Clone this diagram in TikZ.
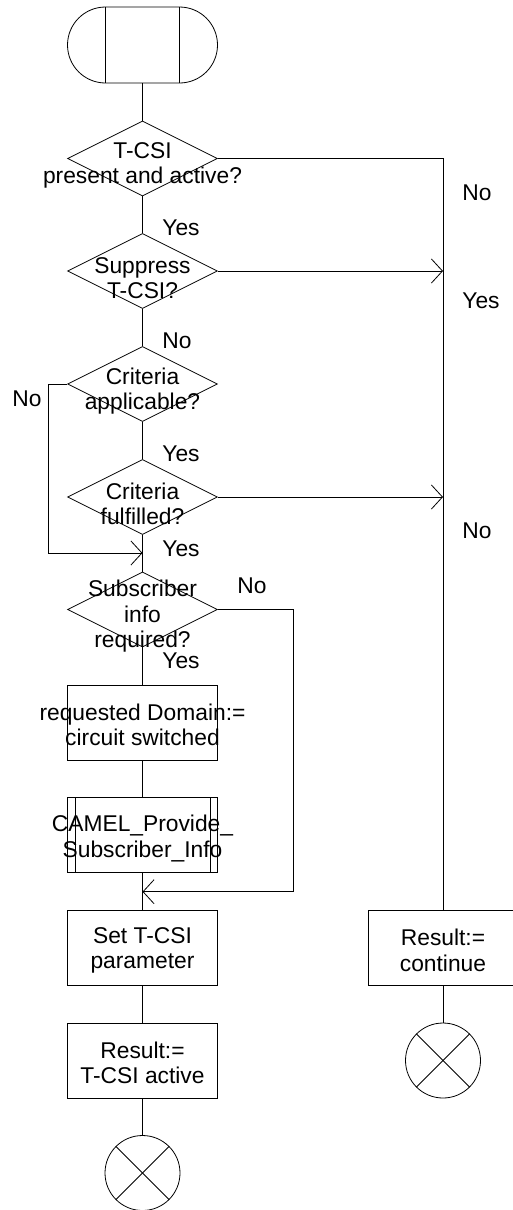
\documentclass[tikz,border=0pt]{standalone}
\usepackage{fontspec}
\setmainfont{Liberation Sans}
\usepackage{tikz}
\usetikzlibrary{arrows.meta,shapes.geometric,shapes.misc,calc}

\begin{document}
\begin{tikzpicture}[x=1pt,y=-1pt,line width=0.8pt,
  every node/.style={font=\fontsize{22.8}{25.5}\selectfont},
  term/.style={draw,rounded rectangle,minimum width=150pt,minimum height=76pt,inner sep=0pt,
    path picture={\draw ([xshift=38pt]path picture bounding box.north west) -- ([xshift=38pt]path picture bounding box.south west);
      \draw ([xshift=-38pt]path picture bounding box.north east) -- ([xshift=-38pt]path picture bounding box.south east);}},
  cond/.style={draw,diamond,minimum width=150pt,minimum height=75pt,inner sep=0pt},
  task/.style={draw,rectangle,minimum width=150pt,minimum height=75pt,inner sep=0pt},
  proc/.style={task,path picture={\draw ([xshift=7.5pt]path picture bounding box.north west) -- ([xshift=7.5pt]path picture bounding box.south west);
      \draw ([xshift=-7.5pt]path picture bounding box.north east) -- ([xshift=-7.5pt]path picture bounding box.south east);}},
  stopnode/.style={draw,circle,minimum size=75pt,inner sep=0pt,
    path picture={\draw (path picture bounding box.north west) -- (path picture bounding box.south east);
      \draw (path picture bounding box.north east) -- (path picture bounding box.south west);}},
  ctext/.style={align=center,inner sep=0pt,yshift=-7pt},
  btext/.style={align=center,inner sep=0pt,yshift=-2.5pt},
  lbl/.style={inner sep=0pt,anchor=base west},
  flow/.style={-{Straight Barb[length=11pt,width=24pt]}}
]
\useasboundingbox (0,0) rectangle (512,1210);

\node[term] (start) at (142.5,45) {};
\node[cond] (d1) at (142.5,158.5) {};
\node[ctext] (d1t) at (d1) {T-CSI\\present and active?};
\node[cond] (d2) at (142.5,271) {};
\node[ctext] (d2t) at (d2) {Suppress\\T-CSI?};
\node[cond] (d3) at (142.5,384) {};
\node[ctext] (d3t) at (d3) {Criteria\\applicable?};
\node[cond] (d4) at (142.5,497) {};
\node[ctext] (d4t) at (d4) {Criteria\\fulfilled?};
\node[cond] (d5) at (142.5,609.5) {};
\node[ctext] (d5t) at (d5) {Subscriber\\info\\required?};
\node[task] (dom) at (142.5,722.5) {};
\node[btext] (domt) at (dom) {requested Domain:=\\circuit switched};
\node[proc] (camel) at (142.5,835) {};
\node[btext,yshift=-1pt] (camelt) at (camel) {CAMEL\_Provide\_\\Subscriber\_Info};
\node[task] (setp) at (142.5,948) {};
\node[btext] (setpt) at (setp) {Set T-CSI\\parameter};
\node[task] (resa) at (142.5,1060.5) {};
\node[btext] (resat) at (resa) {Result:=\\T-CSI active};
\node[stopnode] (stopa) at (142.5,1173) {};
\node[task] (resc) at (443,948) {};
\node[btext] (resct) at (resc) {Result:=\\continue};
\node[stopnode] (stopc) at (443,1060.5) {};

\coordinate (j1) at (142.5,553);
\coordinate (j2) at (142.5,891.7);

\draw (start) -- (d1);
\draw (d1) -- (d2);
\draw (d2) -- (d3);
\draw (d3) -- (d4);
\draw (d4) -- (d5);
\draw (d5) -- (dom);
\draw (dom) -- (camel);
\draw (camel) -- (setp);
\draw (setp) -- (resa);
\draw (resa) -- (stopa);
\draw (d1.east) -| (resc.north);
\draw[flow] (d2.east) -- (d2.east -| resc.north);
\draw[flow] (d4.east) -- (d4.east -| resc.north);
\draw[flow] (d3.west) -- ++(-18.5,0) |- (j1);
\draw[flow] (d5.east) -- ++(75.5,0) |- (j2);
\draw (resc) -- (stopc);

\node[lbl] (y1) at (162,235) {Yes};
\node[lbl] (n2) at (162,348) {No};
\node[lbl] (y3) at (162,461.7) {Yes};
\node[lbl] (n3) at (12,406) {No};
\node[lbl] (y4) at (162,556) {Yes};
\node[lbl] (y5) at (162,668) {Yes};
\node[lbl] (n5) at (237,593) {No};
\node[lbl] (n1) at (462,200) {No};
\node[lbl] (y2) at (462,308) {Yes};
\node[lbl] (n4) at (462,538) {No};
\end{tikzpicture}
\end{document}
